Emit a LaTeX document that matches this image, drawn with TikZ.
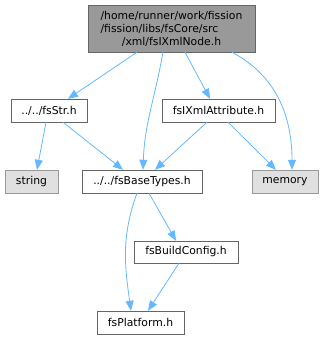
\documentclass[tikz,border=0pt]{standalone}
\usepackage{fontspec}
\setmainfont{DejaVu Sans}
\definecolor{dxedge}{HTML}{63B8FF}
\definecolor{dxdark}{HTML}{666666}
\definecolor{dxmain}{HTML}{999999}
\definecolor{dxsys}{HTML}{E0E0E0}
\usetikzlibrary{arrows.meta,positioning,calc}

\begin{document}
\begin{tikzpicture}[x=1pt, y=1pt,
    hdr/.style={rectangle, draw=dxdark, fill=white, inner sep=0pt, minimum height=23pt,
      font=\fontsize{10.8}{12.6}\selectfont},
    sys/.style={hdr, draw=dxmain, fill=dxsys},
    inc/.style={-{Triangle[length=10pt, width=8pt]}, dxedge, line width=0.8pt}
  ]
    \useasboundingbox (0,0) rectangle (324,340);

    % Main file
    \node[hdr, fill=dxmain, minimum width=167pt, minimum height=47pt, align=center]
      (node) at (171.5,311.5)
      {\begin{tabular}{@{}l@{}}/home/runner/work/fission\\/fission/libs/fsCore/src\end{tabular}\\/xml/fsIXmlNode.h};

    % Included headers
    \node[hdr, minimum width=76pt]  (str)    at (49,229.5)    {../../fsStr.h};
    \node[hdr, minimum width=113pt] (attr)   at (218.5,229.5) {fsIXmlAttribute.h};
    \node[sys, minimum width=53pt]  (string) at (31.5,158.5)  {string};
    \node[hdr, minimum width=120pt] (base)   at (142,158.5)   {../../fsBaseTypes.h};
    \node[sys, minimum width=66pt]  (memory) at (285,158.5)   {memory};
    \node[hdr, minimum width=104pt, minimum height=22pt] (build) at (186,88) {fsBuildConfig.h};
    \node[hdr, minimum width=87pt]  (plat)   at (140.5,17.5)  {fsPlatform.h};

    % Include edges
    \draw[inc] ([xshift=-34.5pt]node.south) -- ([xshift=19pt]str.north);
    \draw[inc] ([xshift=-8.5pt]node.south) to[out=-100, in=88] ([xshift=1pt]base.north);
    \draw[inc] ([xshift=13.5pt]node.south) -- ([xshift=-8.5pt]attr.north);
    \draw[inc] ([xshift=60.5pt]node.south) to[out=-28, in=90] ([xshift=7pt]memory.north);

    \draw[inc] ([xshift=-3pt]str.south) -- ([xshift=5.5pt]string.north);
    \draw[inc] ([xshift=14pt]str.south) -- ([xshift=-19pt]base.north);
    \draw[inc] ([xshift=-11.5pt]attr.south) -- ([xshift=13pt]base.north);
    \draw[inc] ([xshift=9.5pt]attr.south) -- ([xshift=-9pt]memory.north);

    \draw[inc] ([xshift=7pt]base.south) -- ([xshift=-10pt]build.north);
    \draw[inc] ([xshift=-5pt]base.south) to[out=-110, in=98] ([xshift=-9.5pt]plat.north);
    \draw[inc] ([xshift=-7pt]build.south) -- ([xshift=7.5pt]plat.north);
  \end{tikzpicture}
\end{document}
